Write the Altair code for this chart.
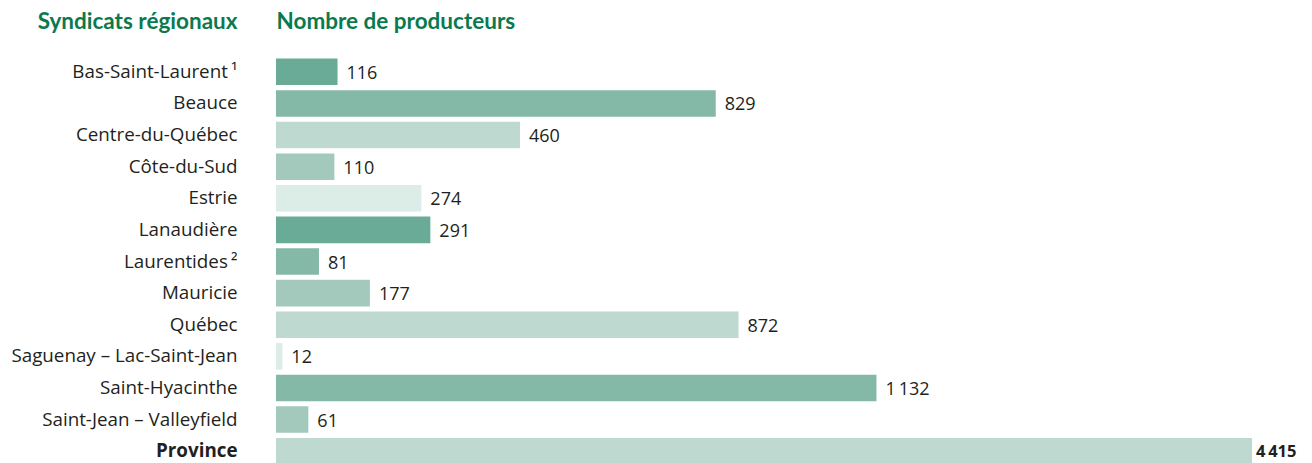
import altair as alt
import pandas as pd

regions = [
    "Bas-Saint-Laurent\u2009¹", "Beauce", "Centre-du-Québec", "Côte-du-Sud", "Estrie",
    "Lanaudière", "Laurentides\u2009²", "Mauricie", "Québec", "Saguenay – Lac-Saint-Jean",
    "Saint-Hyacinthe", "Saint-Jean – Valleyfield", "Province",
]
producers = [116, 829, 460, 110, 274, 291, 81, 177, 872, 12, 1132, 61, 4415]
bar_colors = [
    "#6aab97", "#85b9a7", "#bed9d0", "#a2c9bc", "#dcece7",
    "#6aab97", "#85b9a7", "#a2c9bc", "#bed9d0", "#dcece7",
    "#85b9a7", "#a2c9bc", "#bed9d0",
]

X_MAX = 1840  # the Province bar is cut at the edge of the panel, as in the source

df = pd.DataFrame({"region": regions, "value": producers})

base = alt.Chart(df).transform_calculate(
    shown="min(datum.value, %d)" % X_MAX,
    label="replace(format(datum.value, ','), /,/g, '\u2009')",
)

y_enc = alt.Y(
    "region:N",
    sort=regions,
    scale=alt.Scale(paddingInner=0.16, paddingOuter=0.08),
    axis=alt.Axis(
        title="Syndicats régionaux",
        titleAngle=0,
        titleAlign="right",
        titleBaseline="middle",
        titleX=-39,
        titleY=-35,
        titleFont="Lato",
        titleFontSize=22.5,
        titleFontWeight="bold",
        titleColor="#0a7a4e",
        labelFont="Open Sans",
        labelFontSize=18.8,
        labelColor="#231f20",
        labelPadding=39,
        labelLimit=400,
        labelFontWeight={"condition": {"test": "datum.value == 'Province'", "value": "bold"}, "value": "normal"},
        ticks=False,
        domain=False,
    ),
)

x_enc = alt.X(
    "shown:Q",
    scale=alt.Scale(domain=[0, X_MAX], nice=False, zero=True),
    axis=alt.Axis(
        orient="top",
        title="Nombre de producteurs",
        titleAlign="left",
        titleAnchor="start",
        titleBaseline="middle",
        titleX=0,
        titleY=-35,
        titleFont="Lato",
        titleFontSize=22.5,
        titleFontWeight="bold",
        titleColor="#0a7a4e",
        labels=False,
        ticks=False,
        domain=False,
        grid=False,
    ),
)

bars = base.mark_bar().encode(
    x=x_enc,
    y=y_enc,
    color=alt.Color("region:N", scale=alt.Scale(domain=regions, range=bar_colors), legend=None),
)

labels = base.transform_filter("datum.region != 'Province'").mark_text(
    align="left", baseline="middle", dx=9, dy=2, font="Open Sans", fontSize=18, color="#231f20"
).encode(x="shown:Q", y=alt.Y("region:N", sort=regions), text="label:N")

total_label = base.transform_filter("datum.region == 'Province'").mark_text(
    align="left", baseline="middle", dx=4, dy=1, font="Open Sans", fontSize=16.5, fontWeight="bold", color="#231f20"
).encode(x="shown:Q", y=alt.Y("region:N", sort=regions), text="label:N")

chart = (
    alt.layer(bars, labels, total_label)
    .properties(
        width=976,
        height=411,
        autosize=alt.AutoSizeParams(type="none"),
        padding={"left": 268, "top": 48, "right": 50, "bottom": 0},
    )
    .configure(background="white", view=alt.ViewConfig(strokeWidth=0, stroke=None))
)

chart.save("out.html", embed_options={"renderer": "svg", "actions": False})
